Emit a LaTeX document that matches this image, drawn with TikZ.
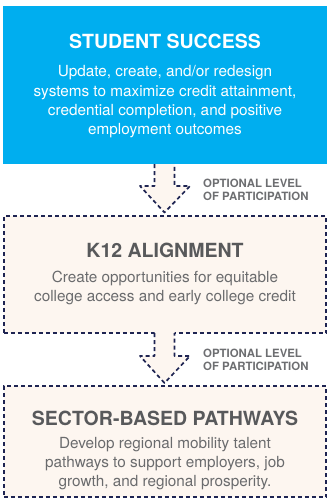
\documentclass[tikz,border=0pt]{standalone}
\usepackage{fontspec}
\setmainfont{TeX Gyre Heros}
\definecolor{skyblue}{HTML}{00AEEF}
\definecolor{cream}{HTML}{FDF6F0}
\definecolor{navy}{HTML}{1E2452}
\definecolor{titlegray}{HTML}{58595B}
\definecolor{bodygray}{HTML}{6A6B6D}
\definecolor{labelgray}{HTML}{6D6E71}
\begin{document}
\begin{tikzpicture}[x=1pt,y=-1pt,
  bluebox/.style={rectangle,fill=skyblue,inner sep=0pt,minimum width=324pt,minimum height=158pt},
  dashbox/.style={rectangle,fill=cream,draw=navy,line width=1.7pt,dash pattern=on 4pt off 3pt,inner sep=0pt,minimum width=322.5pt},
  dashline/.style={draw=navy,line width=1.7pt,dash pattern=on 4pt off 3pt,line join=round},
  title/.style={anchor=base,inner sep=0pt,font=\fontsize{19.5}{23}\selectfont\bfseries},
  body/.style={anchor=base,inner sep=0pt,font=\fontsize{15.3}{19}\selectfont},
  lbl/.style={anchor=base west,inner sep=0pt,text=labelgray,font=\fontsize{11.4}{13}\selectfont\bfseries}
]
\useasboundingbox (0,0) rectangle (333,503);
% boxes
\node[bluebox] (ss) at (165,85) {};
\node[dashbox,minimum height=117pt] (k12) at (165,274.5) {};
\node[dashbox,minimum height=111pt] (sec) at (165,441.5) {};
% arrow 1
\coordinate (a1l) at (154.5,164);
\coordinate (a1r) at (174.5,164);
\fill[cream] (a1l) -- (154.5,186) -- (140,186) -- (164.5,212.5) -- (190,186) -- (174.5,186) -- (a1r) -- cycle;
\path[dashline] (a1l) -- (154.5,186) -- (140,186) -- (164.5,212.5) -- (190,186) -- (174.5,186) -- (a1r);
% arrow 2
\coordinate (a2l) at (154.5,333);
\coordinate (a2r) at (174.5,333);
\fill[cream] (154.5,331.5) -- (154.5,356) -- (140,356) -- (164.5,383) -- (190,356) -- (174.5,356) -- (174.5,331.5) -- cycle;
\path[dashline] (a2l) -- (154.5,356) -- (140,356) -- (164.5,383) -- (190,356) -- (174.5,356) -- (a2r);
% texts, blue box
\node[title,text=white] (t1) at (165,48.7) {STUDENT SUCCESS};
\node[body,text=white] (b11) at (165,77) {Update, create, and/or redesign};
\node[body,text=white] (b12) at (165,96) {systems to maximize credit attainment,};
\node[body,text=white] (b13) at (165,115) {credential completion, and positive};
\node[body,text=white] (b14) at (165,134) {employment outcomes};
% K12
\node[title,text=titlegray] (t2) at (165,257) {K12 ALIGNMENT};
\node[body,text=bodygray] (b21) at (165,282.5) {Create opportunities for equitable};
\node[body,text=bodygray] (b22) at (165,301.5) {college access and early college credit};
% sector
\node[title,text=titlegray] (t3) at (165,425) {SECTOR-BASED PATHWAYS};
\node[body,text=bodygray] (b31) at (165,448.3) {Develop regional mobility talent};
\node[body,text=bodygray] (b32) at (165,467.3) {pathways to support employers, job};
\node[body,text=bodygray] (b33) at (165,486.3) {growth, and regional prosperity.};
% labels
\node[lbl] (l11) at (203,187) {OPTIONAL LEVEL};
\node[lbl] (l12) at (203,200) {OF PARTICIPATION};
\node[lbl] (l21) at (203,357) {OPTIONAL LEVEL};
\node[lbl] (l22) at (203,370) {OF PARTICIPATION};
\end{tikzpicture}
\end{document}
